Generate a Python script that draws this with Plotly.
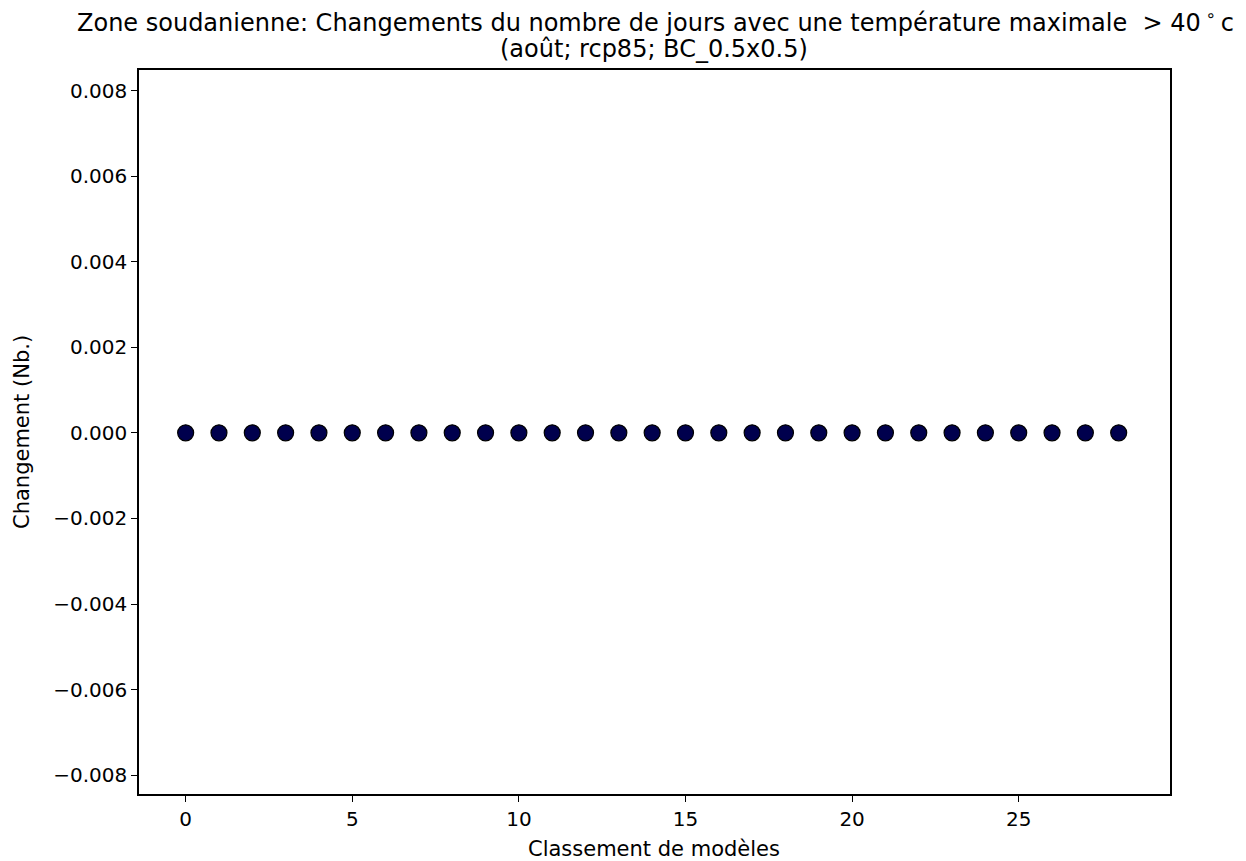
import plotly.graph_objects as go

# Data
model_rank = list(range(29))
change_values = [0.0] * 29

title_line1 = "Zone soudanienne: Changements du nombre de jours avec une température maximale \u00a0> 40\u2009<sup>\u2218</sup>\u2009c"
title_line2 = "(août; rcp85; BC_0.5x0.5)"
x_title = "Classement de modèles"
y_title = "Changement (Nb.)"

y_tickvals = [-0.008, -0.006, -0.004, -0.002, 0.0, 0.002, 0.004, 0.006, 0.008]
y_ticktext = ["\u22120.008", "\u22120.006", "\u22120.004", "\u22120.002", "0.000",
              "0.002", "0.004", "0.006", "0.008"]
x_tickvals = [0, 5, 10, 15, 20, 25]

FONT = "DejaVu Sans"

# page is offset by the default 8px body margin
OFF = 8
W, H = 1246 - OFF, 861 - OFF
L, R, T, B = 139 - OFF, 76, 70 - OFF, 67
ph = H - T - B
pw = W - L - R

def py(ypix):  # page pixel -> paper y
    return (H - B - (ypix - OFF)) / ph

def px(xpix):  # page pixel -> paper x
    return ((xpix - OFF) - L) / pw

fig = go.Figure()
fig.add_trace(go.Scatter(
    x=model_rank, y=change_values, mode="markers",
    marker=dict(size=16, color="#00004d", line=dict(color="black", width=1.2)),
    showlegend=False,
))

fig.update_layout(
    width=W, height=H,
    margin=dict(l=L, r=R, t=T, b=B, pad=0),
    paper_bgcolor="white", plot_bgcolor="white",
    font=dict(family=FONT, size=20, color="black"),
    xaxis=dict(
        range=[-1.4, 29.54], tickvals=x_tickvals, ticks="outside", ticklen=6,
        tickwidth=1.2, tickcolor="black", showgrid=False, zeroline=False,
        showline=True, linecolor="black", linewidth=1.5, mirror=True,
        tickfont=dict(family=FONT, size=20),
    ),
    yaxis=dict(
        range=[-0.00844, 0.00848], tickvals=y_tickvals, ticktext=y_ticktext,
        ticks="outside", ticklen=6, tickwidth=1.2, tickcolor="black",
        showgrid=False, zeroline=False, showline=True, linecolor="black",
        linewidth=1.5, mirror=True, tickfont=dict(family=FONT, size=20),
    ),
    annotations=[
        dict(text=title_line1, xref="paper", yref="paper",
             x=px(655), y=py(21), xanchor="center", yanchor="middle",
             showarrow=False, font=dict(family=FONT, size=24)),
        dict(text=title_line2, xref="paper", yref="paper",
             x=px(654), y=py(49), xanchor="center", yanchor="middle",
             showarrow=False, font=dict(family=FONT, size=24)),
        dict(text=x_title, xref="paper", yref="paper",
             x=px(654), y=py(849), xanchor="center", yanchor="middle",
             showarrow=False, font=dict(family=FONT, size=21)),
        dict(text=y_title, xref="paper", yref="paper",
             x=px(22), y=py(432), xanchor="center", yanchor="middle",
             textangle=-90, showarrow=False, font=dict(family=FONT, size=21)),
    ],
)

fig.write_html("out.html")
